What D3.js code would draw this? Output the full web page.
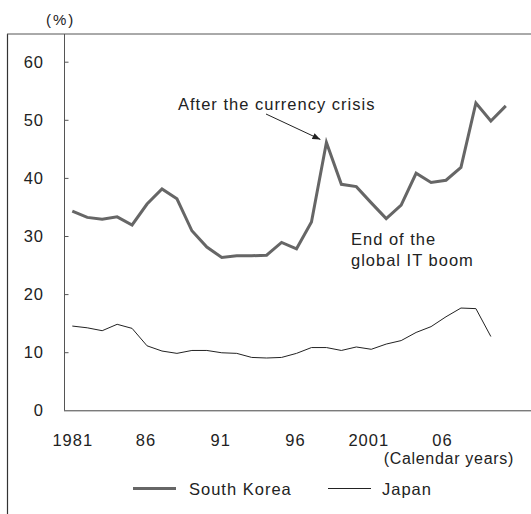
<!DOCTYPE html>
<html><head><meta charset="utf-8">
<script src="https://cdn.jsdelivr.net/npm/d3@7"></script>
<style>body{margin:0;background:#fff}svg{display:block}text{font-family:"Liberation Sans",Arial,sans-serif;fill:#222;letter-spacing:1px}</style>
</head><body><svg id="c" width="531" height="514"></svg>
<script>
const years = d3.range(1981, 2011);
const korea = [34.3,33.2,32.9,33.3,31.9,35.5,38.1,36.4,30.9,28.1,26.3,26.6,26.6,26.7,28.9,27.8,32.4,46.1,38.9,38.5,35.7,33.0,35.3,40.8,39.2,39.6,41.8,52.9,49.8,52.4];
const japan = [14.5,14.2,13.7,14.8,14.1,11.1,10.2,9.8,10.3,10.3,9.9,9.8,9.1,9.0,9.1,9.8,10.8,10.8,10.3,10.9,10.5,11.4,12.0,13.4,14.4,16.1,17.6,17.5,12.7];
const yTicks = [0,10,20,30,40,50,60];
const xTickYears = [1981,1986,1991,1996,2001,2006];
const xTickLabels = ["1981","86","91","96","2001","06"];
const seriesNames = ["South Korea","Japan"];
const FS = 16.5;

const svg = d3.select("#c");
const x = d3.scaleLinear().domain([1981,2010]).range([72.3,505.8]);
const y = d3.scaleLinear().domain([0,60]).range([410.3,61.7]);

// frame lines
svg.append("line").attr("x1",7.5).attr("x2",7.5).attr("y1",34).attr("y2",514).attr("stroke","#333").attr("stroke-width",1.2);
svg.append("line").attr("x1",7).attr("x2",531).attr("y1",34).attr("y2",34).attr("stroke","#555").attr("stroke-width",1);

// y axis
const yAxis = d3.axisRight(y).tickValues(yTicks.filter(d=>d>0)).tickSize(4).tickFormat("");
const gy = svg.append("g").attr("transform","translate(64.5,0)").call(yAxis);
gy.select(".domain").remove();
gy.selectAll(".tick line").attr("stroke","#555");
svg.append("line").attr("x1",64.5).attr("x2",64.5).attr("y1",34).attr("y2",y(0)).attr("stroke","#555").attr("stroke-width",1);
svg.append("line").attr("x1",64).attr("x2",531).attr("y1",y(0)+0.5).attr("y2",y(0)+0.5).attr("stroke","#444").attr("stroke-width",1);
svg.selectAll(".ylab").data(yTicks).enter().append("text")
  .attr("x",44).attr("y",d=>y(d)+6).attr("text-anchor","end").attr("font-size",FS).text(d=>d);
svg.append("text").attr("x",46).attr("y",25).attr("font-size",15).style("letter-spacing","2px").text("(%)");

// x labels
svg.selectAll(".xlab").data(xTickYears).enter().append("text")
  .attr("x",(d,i)=>x(d) + 0.5 - (i===0?0:(i===4?3:(i===5?4:1.5)))).attr("y",446).attr("text-anchor","middle").attr("font-size",FS)
  .text((d,i)=>xTickLabels[i]);
svg.append("text").attr("x",514).attr("y",464).attr("text-anchor","end").attr("font-size",16).style("letter-spacing","0.7px").text("(Calendar years)");

// lines
const line = d3.line().x((d,i)=>x(years[i])).y(d=>y(d));
svg.append("path").datum(korea).attr("d",line).attr("fill","none").attr("stroke","#666").attr("stroke-width",3).attr("stroke-linejoin","miter");
svg.append("path").datum(japan).attr("d",line).attr("fill","none").attr("stroke","#222").attr("stroke-width",1);

// annotations
svg.append("defs").append("marker").attr("id","ah").attr("viewBox","0 0 10 10").attr("refX",10).attr("refY",5)
  .attr("markerWidth",8).attr("markerHeight",8).attr("orient","auto").attr("markerUnits","userSpaceOnUse")
  .append("path").attr("d","M0,1 L10,5 L0,9 Z").attr("fill","#222");
svg.append("text").attr("x",178).attr("y",110).attr("font-size",FS).text("After the currency crisis");
svg.append("line").attr("x1",266).attr("y1",114).attr("x2",x(1998)-6).attr("y2",y(korea[17])-3)
  .attr("stroke","#222").attr("stroke-width",1).attr("marker-end","url(#ah)");
svg.append("text").attr("x",351).attr("y",245).attr("font-size",FS).text("End of the");
svg.append("text").attr("x",351).attr("y",266).attr("font-size",FS).text("global IT boom");

// legend
const leg = [{x1:133,x2:176,tx:189,w:3,c:"#666"},{x1:328,x2:371,tx:382,w:1,c:"#222"}];
leg.forEach((l,i)=>{
  svg.append("line").attr("x1",l.x1).attr("x2",l.x2).attr("y1",488.5).attr("y2",488.5).attr("stroke",l.c).attr("stroke-width",l.w);
  svg.append("text").attr("x",l.tx).attr("y",495).attr("font-size",FS).text(seriesNames[i]);
});
</script></body></html>
